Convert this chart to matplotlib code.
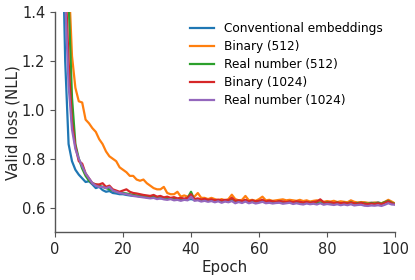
import matplotlib
matplotlib.use("Agg")
import matplotlib.pyplot as plt
import numpy as np

epochs = np.arange(1, 101)

conventional = [
    2.40, 1.85, 1.20, 0.86, 0.79, 0.755, 0.735, 0.72, 0.705, 0.708,
    0.695, 0.68, 0.685, 0.672, 0.665, 0.668, 0.66, 0.658, 0.655, 0.655,
    0.652, 0.65, 0.648, 0.648, 0.645, 0.646, 0.642, 0.643, 0.64, 0.641,
    0.638, 0.64, 0.637, 0.636, 0.638, 0.635, 0.636, 0.634, 0.633, 0.635,
    0.632, 0.634, 0.631, 0.632, 0.63, 0.631, 0.629, 0.63, 0.628, 0.63,
    0.628, 0.63, 0.627, 0.628, 0.626, 0.629, 0.625, 0.627, 0.626, 0.625,
    0.627, 0.624, 0.626, 0.625, 0.623, 0.626, 0.624, 0.623, 0.625, 0.622,
    0.624, 0.623, 0.621, 0.623, 0.622, 0.624, 0.621, 0.622, 0.62, 0.623,
    0.621, 0.62, 0.622, 0.62, 0.621, 0.619, 0.622, 0.62, 0.619, 0.621,
    0.62, 0.618, 0.62, 0.619, 0.621, 0.618, 0.622, 0.626, 0.62, 0.617,
]

binary_512 = [
    3.50, 2.60, 2.00, 1.55, 1.22, 1.09, 1.035, 1.03, 0.96, 0.945,
    0.925, 0.91, 0.88, 0.86, 0.83, 0.81, 0.80, 0.79, 0.765, 0.755,
    0.745, 0.73, 0.73, 0.715, 0.71, 0.715, 0.70, 0.69, 0.68, 0.675,
    0.675, 0.685, 0.66, 0.655, 0.655, 0.665, 0.645, 0.65, 0.645, 0.64,
    0.645, 0.66, 0.64, 0.64, 0.635, 0.64, 0.635, 0.63, 0.635, 0.63,
    0.635, 0.653, 0.635, 0.63, 0.632, 0.648, 0.63, 0.632, 0.628, 0.635,
    0.645, 0.63, 0.632, 0.628, 0.63, 0.632, 0.634, 0.63, 0.632, 0.63,
    0.628, 0.632, 0.627, 0.63, 0.625, 0.628, 0.63, 0.626, 0.624, 0.627,
    0.625, 0.628, 0.623, 0.626, 0.624, 0.622, 0.63, 0.624, 0.621, 0.623,
    0.622, 0.62, 0.619, 0.621, 0.62, 0.618, 0.624, 0.632, 0.625, 0.617,
]

real_512 = [
    3.00, 2.30, 1.80, 1.45, 1.05, 0.86, 0.80, 0.76, 0.73, 0.71,
    0.70, 0.695, 0.69, 0.685, 0.68, 0.675, 0.67, 0.665, 0.662, 0.66,
    0.658, 0.655, 0.652, 0.65, 0.648, 0.645, 0.646, 0.642, 0.648, 0.64,
    0.642, 0.638, 0.64, 0.636, 0.638, 0.635, 0.637, 0.634, 0.64, 0.665,
    0.632, 0.635, 0.63, 0.633, 0.628, 0.63, 0.627, 0.631, 0.626, 0.63,
    0.627, 0.632, 0.625, 0.628, 0.624, 0.63, 0.622, 0.628, 0.625, 0.623,
    0.627, 0.622, 0.625, 0.624, 0.621, 0.626, 0.622, 0.62, 0.624, 0.621,
    0.623, 0.62, 0.618, 0.622, 0.62, 0.623, 0.619, 0.621, 0.618, 0.622,
    0.62, 0.618, 0.621, 0.617, 0.62, 0.618, 0.622, 0.617, 0.619, 0.62,
    0.618, 0.616, 0.619, 0.617, 0.62, 0.616, 0.623, 0.628, 0.62, 0.615,
]

binary_1024 = [
    2.80, 2.10, 1.55, 1.20, 0.95, 0.85, 0.79, 0.78, 0.74, 0.72,
    0.70, 0.695, 0.695, 0.70, 0.685, 0.69, 0.675, 0.67, 0.665, 0.67,
    0.675, 0.665, 0.66, 0.658, 0.655, 0.652, 0.65, 0.648, 0.652, 0.645,
    0.648, 0.642, 0.645, 0.64, 0.643, 0.638, 0.64, 0.637, 0.64, 0.655,
    0.635, 0.638, 0.633, 0.636, 0.632, 0.634, 0.63, 0.633, 0.629, 0.632,
    0.63, 0.64, 0.628, 0.63, 0.627, 0.632, 0.625, 0.63, 0.626, 0.628,
    0.632, 0.625, 0.628, 0.626, 0.624, 0.627, 0.625, 0.623, 0.626, 0.622,
    0.626, 0.624, 0.621, 0.624, 0.62, 0.623, 0.625, 0.634, 0.622, 0.62,
    0.622, 0.619, 0.621, 0.618, 0.62, 0.617, 0.621, 0.618, 0.616, 0.62,
    0.616, 0.614, 0.617, 0.615, 0.618, 0.614, 0.62, 0.626, 0.618, 0.614,
]

real_1024 = [
    2.70, 2.00, 1.45, 1.10, 0.92, 0.84, 0.80, 0.77, 0.74, 0.72,
    0.70, 0.69, 0.685, 0.685, 0.68, 0.685, 0.67, 0.665, 0.66, 0.658,
    0.655, 0.652, 0.648, 0.646, 0.644, 0.642, 0.64, 0.638, 0.64, 0.635,
    0.638, 0.634, 0.632, 0.635, 0.63, 0.632, 0.628, 0.632, 0.63, 0.645,
    0.628, 0.63, 0.625, 0.628, 0.624, 0.627, 0.622, 0.626, 0.62, 0.625,
    0.622, 0.627, 0.618, 0.623, 0.619, 0.625, 0.618, 0.622, 0.617, 0.62,
    0.624, 0.618, 0.62, 0.617, 0.619, 0.62, 0.616, 0.618, 0.62, 0.615,
    0.618, 0.615, 0.613, 0.617, 0.614, 0.616, 0.613, 0.618, 0.612, 0.615,
    0.613, 0.611, 0.614, 0.61, 0.613, 0.61, 0.614, 0.609, 0.611, 0.612,
    0.608, 0.607, 0.609, 0.608, 0.61, 0.607, 0.612, 0.618, 0.613, 0.612,
]

series = [
    ("Conventional embeddings", conventional, "#1f77b4"),
    ("Binary (512)", binary_512, "#ff7f0e"),
    ("Real number (512)", real_512, "#2ca02c"),
    ("Binary (1024)", binary_1024, "#d62728"),
    ("Real number (1024)", real_1024, "#9467bd"),
]

fig = plt.figure(figsize=(4.15, 2.8), dpi=100)
ax = fig.add_axes([0.1325, 0.171, 0.8195, 0.786])

for label, values, color in series:
    ax.plot(epochs, values, color=color, linewidth=1.6, label=label)

ax.set_xlim(0, 100)
ax.set_ylim(0.5, 1.4)
ax.set_xticks([0, 20, 40, 60, 80, 100])
ax.set_yticks([0.6, 0.8, 1.0, 1.2, 1.4])
ax.set_xlabel("Epoch", fontsize=10.8, color="#262626", labelpad=2)
ax.set_ylabel("Valid loss (NLL)", fontsize=10.8, color="#262626")
ax.yaxis.set_label_coords(-0.1, 0.5)

for side in ["top", "right"]:
    ax.spines[side].set_visible(False)
for side in ["left", "bottom"]:
    ax.spines[side].set_color("#555555")
    ax.spines[side].set_linewidth(1.0)
ax.tick_params(colors="#555555", labelcolor="#262626", labelsize=10.5)

ax.legend(loc="upper left", bbox_to_anchor=(0.458, 0.922),
          bbox_transform=fig.transFigure, frameon=False, fontsize=8.7,
          borderpad=0, borderaxespad=0, labelspacing=0.42)

fig.savefig("out.png", dpi=100)
